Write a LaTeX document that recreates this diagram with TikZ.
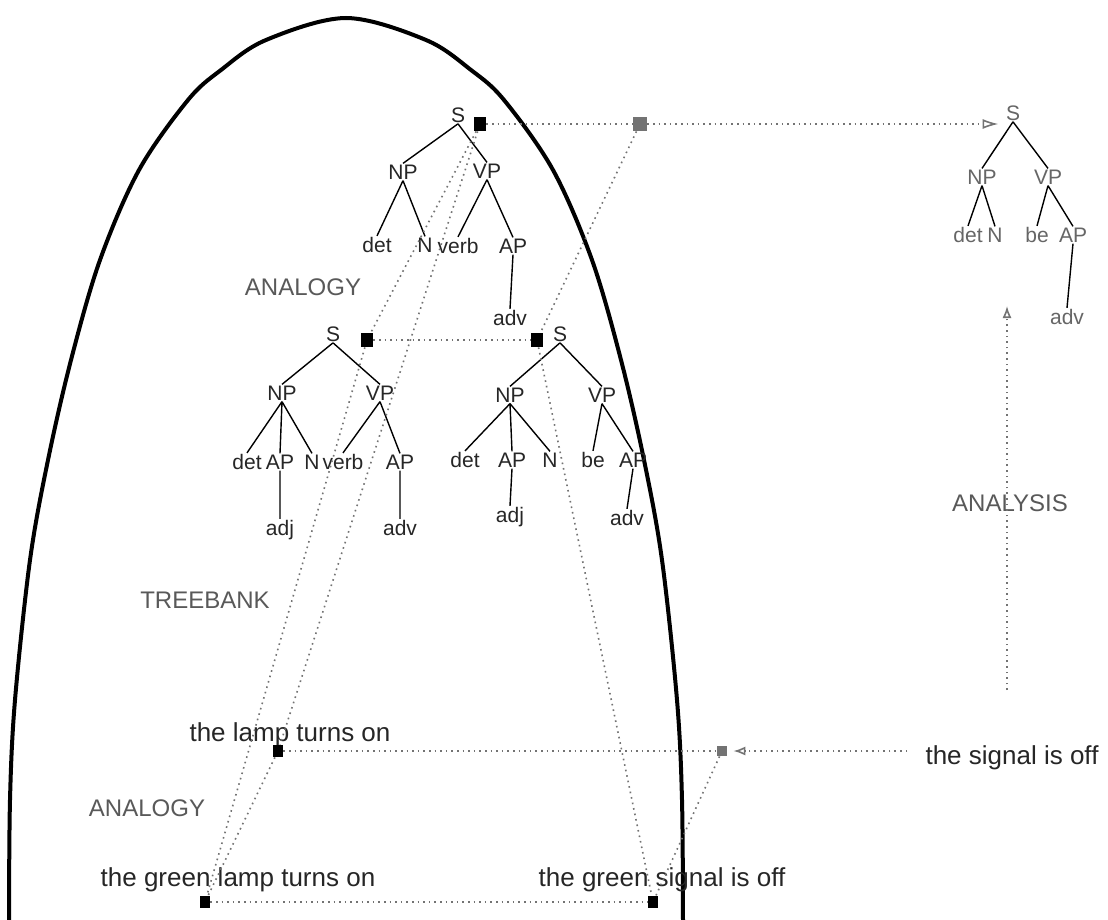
\documentclass[tikz,border=0pt]{standalone}
\usepackage{fontspec}
\setmainfont{Liberation Sans}
\usetikzlibrary{arrows.meta}
\begin{document}
\begin{tikzpicture}[x=0.5pt,y=-0.5pt,
  tl/.style={font=\fontsize{10.5}{12}\selectfont, text=black!85, inner sep=0.5pt},
  tlr/.style={tl, text=black!60},
  caplab/.style={font=\fontsize{12}{14}\selectfont, text=black!65, inner sep=1pt},
  sent/.style={font=\fontsize{13}{15}\selectfont, text=black!85, inner sep=1pt},
  tedge/.style={draw=black, line width=0.7pt},
  bsq/.style={fill=black, minimum width=6pt, minimum height=7pt, inner sep=0pt},
  bsqs/.style={fill=black, minimum width=5pt, minimum height=6pt, inner sep=0pt},
  gsq/.style={fill=black!55, minimum width=7pt, minimum height=7pt, inner sep=0pt},
  gsqs/.style={fill=black!55, minimum width=5pt, minimum height=5pt, inner sep=0pt},
  dl/.style={draw=black!55, dotted, line width=0.8pt},
  dla/.style={dl, -{Latex[open, length=6pt, width=4.5pt]}}
]
\path[use as bounding box, fill=white] (0,0) rectangle (1108,920);

% treebank boundary
\draw[line width=2pt] plot[smooth, tension=0.55] coordinates {
  (9,925) (10,800) (15,700) (30,560) (48,460) (71,360) (100,260) (139,170)
  (188,100) (221,70) (266,40) (346,18) (426,40) (471,70) (504,100)
  (553,170) (592,260) (621,360) (644,460) (662,560) (677,700) (682,800) (683,925)};

% ---- top tree (analogy source) ----
\node[tl] (aS) at (458,115) {S};
\node[bsq] (aq) at (480,124) {};
\node[tl] (aNP) at (403,172) {NP};
\node[tl] (aVP) at (487,171) {VP};
\node[tl] (adet) at (377,245) {det};
\node[tl] (aN) at (425,245) {N};
\node[tl] (averb) at (458,246) {verb};
\node[tl] (aAP) at (513,246) {AP};
\node[tl] (aadv) at (510,318) {adv};
\path[tedge] (aS.south) -- (aNP.north) (aS.south) -- (aVP.north)
  (aNP.south) -- (adet.north) (aNP.south) -- (aN.north)
  (aVP.south) -- (averb.north) (aVP.south) -- (aAP.north)
  (aAP.south) -- (aadv.north);

% ---- middle left tree ----
\node[tl] (bS) at (333,334) {S};
\node[bsq] (bq) at (367,340) {};
\node[tl] (bNP) at (282,393) {NP};
\node[tl] (bVP) at (380,393) {VP};
\node[tl] (bdet) at (247,462) {det};
\node[tl] (bAPa) at (280,462) {AP};
\node[tl] (bN) at (312,462) {N};
\node[tl] (bverb) at (343,462) {verb};
\node[tl] (bAPb) at (400,462) {AP};
\node[tl] (badj) at (280,530) {adj};
\node[tl] (badv) at (400,528) {adv};
\path[tedge] (bS.south) -- (bNP.north) (bS.south) -- (bVP.north)
  (bNP.south) -- (bdet.north) (bNP.south) -- (bAPa.north) (bNP.south) -- (bN.north)
  (bVP.south) -- (bverb.north) (bVP.south) -- (bAPb.north)
  (bAPa.south) -- (badj.north) (bAPb.south) -- (badv.north);

% ---- middle right tree ----
\node[tl] (cS) at (560,334) {S};
\node[bsq] (cq) at (537,340) {};
\node[tl] (cNP) at (510,395) {NP};
\node[tl] (cVP) at (602,395) {VP};
\node[tl] (cdet) at (465,460) {det};
\node[tl] (cAPa) at (512,460) {AP};
\node[tl] (cN) at (550,460) {N};
\node[tl] (cbe) at (593,460) {be};
\node[tl] (cAPb) at (633,460) {AP};
\node[tl] (cadj) at (510,517) {adj};
\node[tl] (cadv) at (627,518) {adv};
\path[tedge] (cS.south) -- (cNP.north) (cS.south) -- (cVP.north)
  (cNP.south) -- (cdet.north) (cNP.south) -- (cAPa.north) (cNP.south) -- (cN.north)
  (cVP.south) -- (cbe.north) (cVP.south) -- (cAPb.north)
  (cAPa.south) -- (cadj.north) (cAPb.south) -- (cadv.north);

% ---- result tree (right) ----
\node[tlr] (dS) at (1013,113) {S};
\node[tlr] (dNP) at (982,177) {NP};
\node[tlr] (dVP) at (1048,177) {VP};
\node[tlr] (ddet) at (968,235) {det};
\node[tlr] (dN) at (995,235) {N};
\node[tlr] (dbe) at (1037,235) {be};
\node[tlr] (dAP) at (1073,235) {AP};
\node[tlr] (dadv) at (1067,317) {adv};
\path[tedge] (dS.south) -- (dNP.north) (dS.south) -- (dVP.north)
  (dNP.south) -- (ddet.north) (dNP.south) -- (dN.north)
  (dVP.south) -- (dbe.north) (dVP.south) -- (dAP.north)
  (dAP.south) -- (dadv.north);

% ---- labels ----
\node[caplab] (lan1) at (303,287) {ANALOGY};
\node[caplab] (ltb) at (205,600) {TREEBANK};
\node[caplab] (lana) at (1010,503) {ANALYSIS};
\node[caplab] (lan2) at (147,808) {ANALOGY};

% ---- sentences ----
\node[sent] (lamp) at (290,735) {the lamp turns on};
\node[sent] (glamp) at (238,880) {the green lamp turns on};
\node[sent] (gsig) at (662,880) {the green signal is off};
\node[sent] (sig) at (1012,758) {the signal is off};
\node[bsqs] (lampq) at (278,751) {};
\node[bsqs] (glampq) at (205,902) {};
\node[bsqs] (gsigq) at (653,902) {};
\node[gsqs] (sigq) at (722,751) {};
\node[gsq] (gq) at (640,124) {};

% ---- dotted connectors ----
\draw[dl] (aq) -- (gq);
\draw[dla, -{Latex[open, length=8pt, width=5pt]}, shorten >=3pt] (gq) -- (gq -| dS.west);
\draw[dl] (gq) -- (cq);
\draw[dl] (bq) -- (cq);
\draw[dl] (aq) -- (bq);
\draw[dl] (aq) -- (lampq);
\draw[dl] (bq) -- (glampq);
\draw[dl] (cq) -- (gsigq);
\draw[dl] (lampq) -- (glampq);
\draw[dl] (lampq) -- (sigq);
\draw[dla, shorten <=8pt, shorten >=3pt] (sig.west |- sigq) -- (sigq);
\draw[dl] (sigq) -- (gsigq);
\draw[dl] (glampq) -- (gsigq);
\coordinate (anbot) at (1007,690);
\coordinate (antop) at (1007,306);
\draw[dla] (anbot) -- (antop);
\end{tikzpicture}
\end{document}
